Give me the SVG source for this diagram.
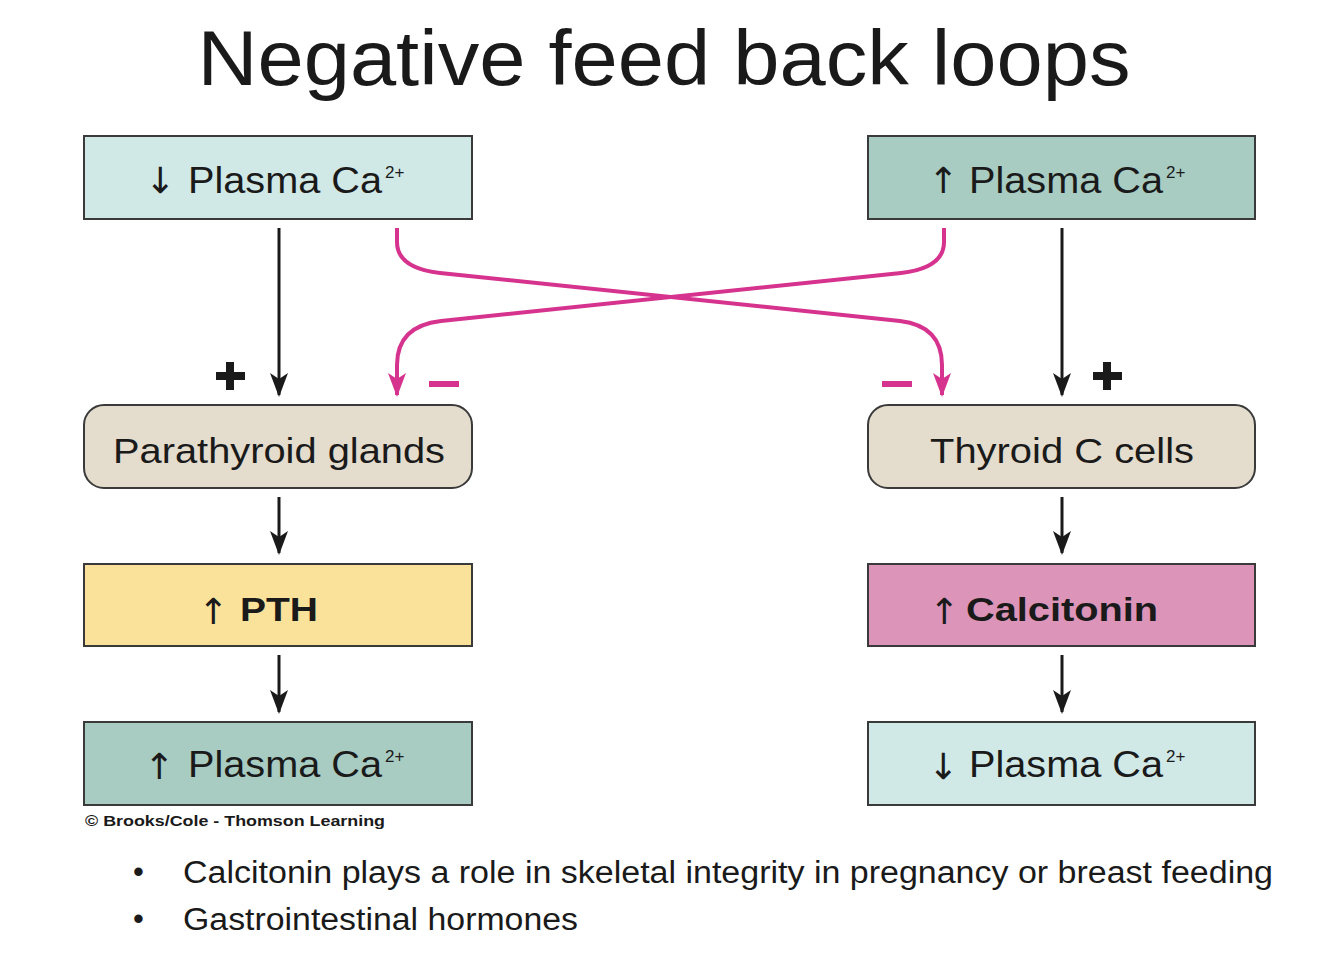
<svg xmlns="http://www.w3.org/2000/svg" width="1334" height="967" viewBox="0 0 1334 967">
<defs>
<style>
.t{font-family:"Liberation Sans",Arial,sans-serif;fill:#1a1a1a}
.box{stroke:#3a3a3a;stroke-width:2}
.lbl{font-size:37px}
.sup{font-size:17px}
.ar{font-family:"DejaVu Sans",sans-serif;font-size:36px;fill:#1a1a1a}
.blk{stroke:#1a1a1a;stroke-width:3;fill:none}
.mag{stroke:#d6338f;stroke-width:4;fill:none}
</style>
<marker id="hb" markerWidth="24" markerHeight="18" refX="22" refY="9" orient="auto" markerUnits="userSpaceOnUse" viewBox="0 0 24 18"><path d="M0,0 L24,9 L0,18 L6,9 Z" fill="#1a1a1a"/></marker>
<marker id="hm" markerWidth="24" markerHeight="18" refX="22" refY="9" orient="auto" markerUnits="userSpaceOnUse" viewBox="0 0 24 18"><path d="M0,0 L24,9 L0,18 L6,9 Z" fill="#d6338f"/></marker>
</defs>
<rect width="1334" height="967" fill="#ffffff"/>
<text class="t" x="664" y="85" font-size="78" text-anchor="middle" textLength="933" lengthAdjust="spacingAndGlyphs">Negative feed back loops</text>

<g id="left-top"><rect class="box" x="84" y="136" width="388" height="83" fill="#d0e8e6"/>
<text class="ar" x="160" y="193" text-anchor="middle">↓</text>
<text class="t lbl" x="188" y="193" textLength="194" lengthAdjust="spacingAndGlyphs">Plasma Ca</text><text class="t sup" x="385" y="178">2+</text></g>

<g id="right-top"><rect class="box" x="868" y="136" width="387" height="83" fill="#a8cbc2"/>
<text class="ar" x="943" y="193" text-anchor="middle">↑</text>
<text class="t lbl" x="969" y="193" textLength="194" lengthAdjust="spacingAndGlyphs">Plasma Ca</text><text class="t sup" x="1166" y="178">2+</text></g>

<g id="parathyroid"><rect class="box" x="84" y="405" width="388" height="83" rx="20" fill="#e4dccd"/>
<text class="t" x="113" y="463" font-size="35" textLength="332" lengthAdjust="spacingAndGlyphs">Parathyroid glands</text></g>

<g id="thyroid"><rect class="box" x="868" y="405" width="387" height="83" rx="20" fill="#e4dccd"/>
<text class="t" x="930" y="463" font-size="35" textLength="264" lengthAdjust="spacingAndGlyphs">Thyroid C cells</text></g>

<g id="pth"><rect class="box" x="84" y="564" width="388" height="82" fill="#fae29b"/>
<text class="ar" x="213" y="624" text-anchor="middle">↑</text>
<text class="t" x="240" y="621" font-size="33" font-weight="bold" textLength="78" lengthAdjust="spacingAndGlyphs">PTH</text></g>

<g id="calcitonin"><rect class="box" x="868" y="564" width="387" height="82" fill="#dc94b8"/>
<text class="ar" x="944" y="624" text-anchor="middle">↑</text>
<text class="t" x="966" y="621" font-size="33" font-weight="bold" textLength="192" lengthAdjust="spacingAndGlyphs">Calcitonin</text></g>

<g id="left-bottom"><rect class="box" x="84" y="722" width="388" height="83" fill="#a8cbc2"/>
<text class="ar" x="159" y="779" text-anchor="middle">↑</text>
<text class="t lbl" x="188" y="777" textLength="194" lengthAdjust="spacingAndGlyphs">Plasma Ca</text><text class="t sup" x="385" y="762">2+</text></g>

<g id="right-bottom"><rect class="box" x="868" y="722" width="387" height="83" fill="#d0e8e6"/>
<text class="ar" x="943" y="779" text-anchor="middle">↓</text>
<text class="t lbl" x="969" y="777" textLength="194" lengthAdjust="spacingAndGlyphs">Plasma Ca</text><text class="t sup" x="1166" y="762">2+</text></g>

<g id="connectors">
<line class="blk" x1="279" y1="228" x2="279" y2="395" marker-end="url(#hb)"/>
<line class="blk" x1="1062" y1="228" x2="1062" y2="395" marker-end="url(#hb)"/>
<line class="blk" x1="279" y1="497" x2="279" y2="553" marker-end="url(#hb)"/>
<line class="blk" x1="1062" y1="497" x2="1062" y2="553" marker-end="url(#hb)"/>
<line class="blk" x1="279" y1="655" x2="279" y2="712" marker-end="url(#hb)"/>
<line class="blk" x1="1062" y1="655" x2="1062" y2="712" marker-end="url(#hb)"/>
<path class="mag" d="M397,228 V242 Q397,268 440,273 L900,321 Q942,326 942,365 V395" marker-end="url(#hm)"/>
<path class="mag" d="M944,228 V242 Q944,268 901,273 L441,321 Q397,326 397,365 V395" marker-end="url(#hm)"/>
<g fill="#1a1a1a">
<rect x="216" y="372" width="29" height="8"/><rect x="226" y="362" width="8" height="28"/>
<rect x="1093" y="372" width="29" height="8"/><rect x="1103" y="362" width="8" height="28"/>
</g>
<g fill="#d6338f">
<rect x="429" y="381" width="30" height="6"/>
<rect x="882" y="381" width="30" height="6"/>
</g>
</g>

<text class="t" x="85" y="826" font-size="15" font-weight="bold" textLength="300" lengthAdjust="spacingAndGlyphs">© Brooks/Cole - Thomson Learning</text>
<text class="t" x="133" y="882" font-size="31">•</text>
<text class="t" x="183" y="883" font-size="31" textLength="1090" lengthAdjust="spacingAndGlyphs">Calcitonin plays a role in skeletal integrity in pregnancy or breast feeding</text>
<text class="t" x="133" y="929" font-size="31">•</text>
<text class="t" x="183" y="930" font-size="31" textLength="395" lengthAdjust="spacingAndGlyphs">Gastrointestinal hormones</text>
</svg>
